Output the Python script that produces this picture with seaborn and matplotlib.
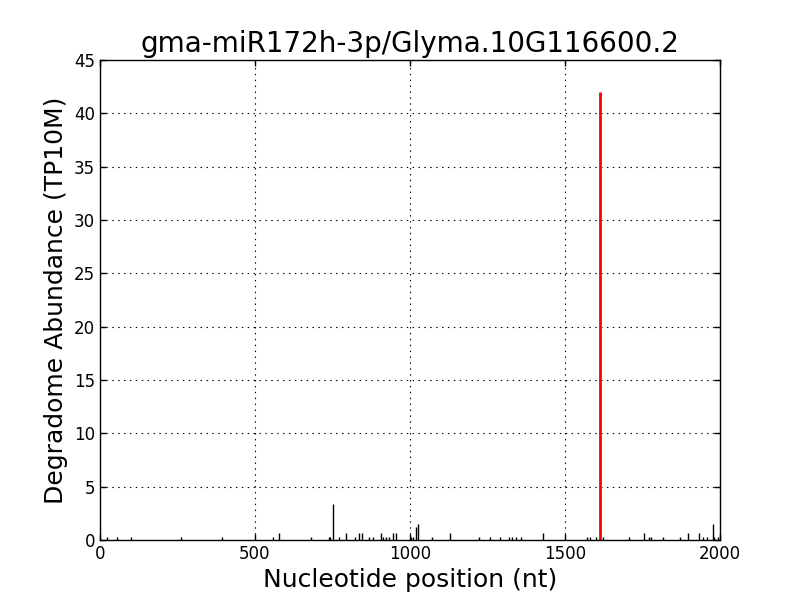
import matplotlib
matplotlib.use("Agg")
import matplotlib.pyplot as plt
import seaborn as sns

# Degradome tags: position (nt) and abundance (TP10M)
positions = [24, 56, 100, 262, 393, 557, 576, 680, 738, 743, 752, 770, 795,
             822, 835, 845, 867, 881, 905, 912, 921, 932, 946, 955,
             1002, 1010, 1020, 1025, 1072, 1129, 1222, 1258, 1290, 1319, 1330,
             1341, 1359, 1430, 1572, 1580, 1599, 1621, 1705, 1756, 1772, 1779,
             1815, 1872, 1896, 1933, 1944, 1958, 1979, 1982, 1995]
abundance = [0.3, 0.3, 0.3, 0.3, 0.3, 0.3, 0.7, 0.3, 0.3, 0.3, 3.4, 0.3, 0.7,
             0.3, 0.7, 0.7, 0.3, 0.3, 0.7, 0.3, 0.3, 0.3, 0.7, 0.7,
             0.3, 0.3, 1.2, 1.5, 0.3, 0.7, 0.3, 0.3, 0.3, 0.3, 0.3,
             0.3, 0.3, 0.7, 0.3, 0.3, 0.3, 0.3, 0.3, 0.7, 0.3, 0.3,
             0.3, 0.3, 0.7, 0.7, 0.3, 0.3, 1.5, 0.3, 0.3]

# predicted cleavage site
site_pos = [1613]
site_val = [42.0]

sns.set_style("ticks", {
    "xtick.direction": "in", "ytick.direction": "in",
    "axes.edgecolor": "black", "text.color": "black",
    "axes.labelcolor": "black", "xtick.color": "black", "ytick.color": "black",
})
plt.rcParams["font.family"] = ["DejaVu Sans"]

fig, ax = plt.subplots(figsize=(8, 6), dpi=100)
fig.subplots_adjust(left=0.125, right=0.9, bottom=0.1, top=0.9)

ax.vlines(positions, 0, abundance, color="black", linewidth=1)
ax.vlines(site_pos, 0, site_val, color="red", linewidth=2)

ax.set_xlim(0, 2000)
ax.set_ylim(0, 45)
ax.set_xticks(range(0, 2001, 500))
ax.set_yticks(range(0, 46, 5))
ax.tick_params(labelsize=12, top=True, right=True, length=4, width=1, color="black")
ax.grid(True, color="black", linestyle=(0, (1.3, 4)), linewidth=0.8)
for s in ax.spines.values():
    s.set_linewidth(1)
    s.set_color("black")

ax.set_title("gma-miR172h-3p/Glyma.10G116600.2", fontsize=20)
ax.set_xlabel("Nucleotide position (nt)", fontsize=18)
ax.set_ylabel("Degradome Abundance (TP10M)", fontsize=18)

plt.savefig("out.png", dpi=100)
